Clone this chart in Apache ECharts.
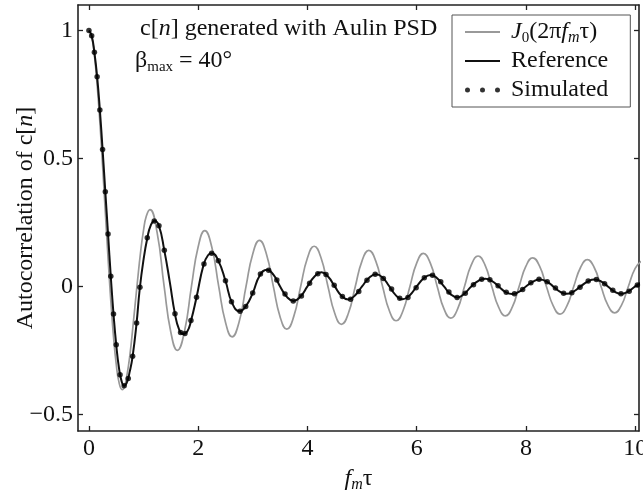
<!DOCTYPE html>
<html><head><meta charset="utf-8">
<script src="https://cdn.jsdelivr.net/npm/echarts@6/dist/echarts.min.js"></script>
<style>html,body{margin:0;padding:0;background:#fff}#c{width:643px;height:492px}</style>
</head><body><div id="c"></div>
<script>
const xTicks = [0, 2, 4, 6, 8, 10];
const yTicks = [-0.5, 0, 0.5, 1];

const j0X = [0,0.05,0.1,0.15,0.2,0.25,0.3,0.35,0.383,0.4,0.45,0.5,0.55,0.61,0.65,0.7,0.75,0.8,0.879,0.95,1.0,1.05,1.117,
 1.247,1.377,1.498,1.619, 1.748,1.877,1.999,2.121, 2.249,2.376,2.499,2.621, 2.749,2.876,2.999,3.122, 3.249,3.376,3.499,3.622,
 3.749,3.876,4.0,4.123, 4.25,4.376,4.5,4.623, 4.75,4.876,5.0,5.123, 5.25,5.376,5.5,5.623, 5.75,5.876,6.0,6.123,
 6.25,6.376,6.5,6.624, 6.75,6.875,7.0,7.124, 7.25,7.375,7.5,7.624, 7.75,7.875,8.0,8.124, 8.25,8.375,8.5,8.624,
 8.75,8.875,9.0,9.124, 9.25,9.375,9.5,9.624, 9.75,9.875,10.0,10.124];
const j0Y = [1,0.976,0.904,0.79,0.643,0.472,0.291,0.111,0,-0.055,-0.196,-0.304,-0.374,-0.403,-0.392,-0.342,-0.268,-0.169,0,0.142,0.22,0.274,0.300,
 0.212,0,-0.177,-0.250, -0.177,0,0.154,0.218, 0.154,0,-0.139,-0.197, -0.139,0,0.127,0.180, 0.127,0,-0.118,-0.167,
 -0.118,0,0.111,0.157, 0.111,0,-0.105,-0.148, -0.105,0,0.100,0.141, 0.100,0,-0.095,-0.134, -0.095,0,0.091,0.129,
 0.091,0,-0.088,-0.124, -0.088,0,0.084,0.119, 0.084,0,-0.081,-0.115, -0.081,0,0.079,0.112, 0.079,0,-0.076,-0.108,
 -0.076,0,0.074,0.105, 0.074,0,-0.073,-0.103, -0.073,0,0.071,0.100];

const refX = [0,0.05,0.1,0.15,0.2,0.25,0.3,0.35,0.4,0.45,0.5,0.55,0.6,0.645,0.69,0.75,0.8,0.87,0.93,1.0,1.07,1.13,1.2,1.28,1.38,1.48,1.575,1.65,1.72,1.8,1.87,1.97,2.1,2.18,2.25,2.37,2.5,2.62,2.76,2.88,3.0,
 3.13,3.26,3.38,3.5,3.62,3.745,3.87,4.0,4.13,4.255,4.38,4.5,4.62,4.745,4.87,5.0,5.13,5.255,5.38,5.5,5.62,5.745,5.87,6.0,
 6.13,6.255,6.38,6.5,6.62,6.745,6.87,7.0,7.13,7.255,7.38,7.5,7.62,7.745,7.87,8.0,8.13,8.255,8.38,8.5,8.62,8.745,8.87,9.0,
 9.13,9.255,9.38,9.5,9.62,9.745,9.87,10.0,10.13];
const refY = [1,0.98,0.915,0.82,0.69,0.535,0.37,0.205,0.04,-0.108,-0.228,-0.318,-0.372,-0.388,-0.378,-0.33,-0.273,-0.148,-0.01,0.105,0.19,0.238,0.257,0.238,0.141,0.018,-0.107,-0.168,-0.186,-0.176,-0.133,-0.042,0.086,0.122,0.130,0.100,0.022,-0.064,-0.097,-0.075,-0.025,
 0.044,0.065,0.045,0.0,-0.040,-0.057,-0.040,0.0,0.039,0.055,0.038,0.0,-0.036,-0.051,-0.035,0.0,0.034,0.048,0.034,0.0,-0.035,-0.050,-0.035,0.0,
 0.032,0.045,0.031,0.0,-0.030,-0.043,-0.029,0.0,0.022,0.030,0.021,0.0,-0.021,-0.030,-0.021,0.0,0.019,0.027,0.019,0.0,-0.020,-0.029,-0.020,0.0,
 0.019,0.027,0.019,0.0,-0.020,-0.029,-0.020,0.0,0.018];

const simX = [0,0.05,0.1,0.15,0.2,0.25,0.3,0.35,0.4,0.45,0.5,0.57,0.645,0.72,0.8,0.873,0.934,1.068,1.196,1.282,1.38,1.575,1.678,1.758,1.868,1.97,2.106,2.247,2.37,2.5,2.61,2.766,2.87,2.998,
 3.14,3.29,3.44,3.59,3.74,3.89,4.04,4.19,4.34,4.49,4.64,4.79,4.94,5.09,5.24,5.39,5.54,5.69,5.84,5.99,6.14,6.29,6.44,6.59,6.74,6.89,
 7.04,7.19,7.34,7.49,7.64,7.79,7.94,8.09,8.24,8.39,8.54,8.69,8.84,8.99,9.14,9.29,9.44,9.59,9.74,9.89,10.04];
const simY = [1,0.98,0.915,0.82,0.69,0.535,0.37,0.205,0.04,-0.108,-0.228,-0.345,-0.388,-0.36,-0.273,-0.143,-0.003,0.19,0.256,0.237,0.141,-0.107,-0.18,-0.184,-0.133,-0.042,0.088,0.13,0.1,0.022,-0.06,-0.097,-0.078,-0.026,
 0.049,0.063,0.025,-0.030,-0.057,-0.037,0.012,0.050,0.047,0.005,-0.039,-0.050,-0.020,0.024,0.048,0.031,-0.010,-0.046,-0.043,-0.005,0.034,0.044,0.018,-0.022,-0.043,-0.027,
 0.007,0.028,0.026,0.003,-0.023,-0.029,-0.012,0.014,0.028,0.018,-0.006,-0.027,-0.025,-0.003,0.021,0.027,0.011,-0.015,-0.029,-0.019,0.006];

const zip = (xs, ys) => xs.slice(0, Math.min(xs.length, ys.length)).map((x, i) => [x, ys[i]]);

const F = "'Liberation Serif', 'Times New Roman', serif";
const INK = '#111';
const FS = 24, LH = 28;
const rich = {
  t: {fontFamily: F, fontSize: FS, lineHeight: LH, color: INK},
  i: {fontFamily: F, fontSize: FS, fontStyle: 'italic', lineHeight: LH, color: INK},
  s: {fontFamily: F, fontSize: 15, lineHeight: 16, verticalAlign: 'bottom', color: INK},
  si: {fontFamily: F, fontSize: 16, fontStyle: 'italic', lineHeight: 16, verticalAlign: 'bottom', color: INK}
};
const dotsPath = 'path://M0,2.5a2.5,2.5 0 1,0 5,0a2.5,2.5 0 1,0 -5,0M15,2.5a2.5,2.5 0 1,0 5,0a2.5,2.5 0 1,0 -5,0M30,2.5a2.5,2.5 0 1,0 5,0a2.5,2.5 0 1,0 -5,0';
const linePath = 'path://M0,0H35V1.8H0Z';

const axisLine = {show: true, onZero: false, lineStyle: {color: '#222', width: 1.6}};
const tickX = {show: true, inside: true, length: 5, customValues: xTicks, lineStyle: {color: '#222', width: 1.3}};
const tickY = {show: true, inside: true, length: 5, customValues: yTicks, lineStyle: {color: '#222', width: 1.3}};

const chart = echarts.init(document.getElementById('c'), null, {renderer: 'canvas'});
chart.setOption({
  animation: false,
  backgroundColor: '#fff',
  grid: {left: 78, right: 4, top: 5, bottom: 61, containLabel: false, outerBoundsMode: 'none'},
  xAxis: [
    {type: 'value', position: 'bottom', min: -0.2, max: 10.07, axisLine, axisTick: tickX,
     axisLabel: {customValues: xTicks, fontFamily: F, fontSize: FS, color: INK, margin: 6},
     splitLine: {show: false},
     name: '{i|f}{si|m}{t|τ}', nameLocation: 'middle', nameGap: 34, nameMoveOverlap: false,
     nameTextStyle: {fontFamily: F, fontSize: FS, color: INK, rich}},
    {type: 'value', position: 'top', min: -0.2, max: 10.07, axisLine, axisTick: tickX,
     axisLabel: {show: false}, splitLine: {show: false}}
  ],
  yAxis: [
    {type: 'value', position: 'left', min: -0.565, max: 1.1, axisLine, axisTick: tickY,
     axisLabel: {customValues: yTicks, fontFamily: F, fontSize: FS, color: INK, margin: 5,
                 formatter: v => String(v).replace('-', '\u2212')},
     splitLine: {show: false},
     name: '{t|Autocorrelation of c[}{i|n}{t|]}', nameLocation: 'middle', nameRotate: 90, nameGap: 38,
     nameMoveOverlap: false,
     nameTextStyle: {fontFamily: F, fontSize: FS, color: INK, rich}},
    {type: 'value', position: 'right', min: -0.565, max: 1.1, axisLine, axisTick: tickY,
     axisLabel: {show: false}, splitLine: {show: false}}
  ],
  legend: {
    orient: 'vertical', left: 452, top: 15,
    padding: [3, 22, 3, 13], itemGap: 1, itemWidth: 35, itemHeight: 12,
    borderColor: '#555', borderWidth: 1, borderRadius: 0, backgroundColor: '#fff',
    textStyle: {fontFamily: F, fontSize: FS, color: INK, lineHeight: LH, rich},
    formatter: name => name === 'J0' ? '{t| }{i|J}{s|0}{t|(2π}{i|f}{si|m}{t|τ)}' : '{t| ' + name + '}',
    data: [
      {name: 'J0', icon: linePath, itemStyle: {color: '#999'}},
      {name: 'Reference', icon: 'path://M0,0H35V2.2H0Z', itemStyle: {color: '#111'}},
      {name: 'Simulated', icon: dotsPath, itemStyle: {color: '#000'}}
    ]
  },
  graphic: [
    {type: 'text', left: 140, top: 17, z: 10,
     style: {text: '{t|c[}{i|n}{t|] generated with Aulin PSD}', rich, fill: INK}},
    {type: 'text', left: 135, top: 49, z: 10,
     style: {text: '{t|β}{s|max}{t| = 40°}', rich, fill: INK}}
  ],
  series: [
    {name: 'J0', type: 'line', data: zip(j0X, j0Y), smooth: 0.5, symbol: 'none',
     lineStyle: {color: '#999', width: 1.7}, itemStyle: {color: '#999'}, z: 1},
    {name: 'Reference', type: 'line', data: zip(refX, refY), smooth: 0.5, symbol: 'none',
     lineStyle: {color: '#111', width: 2}, itemStyle: {color: '#111'}, z: 2},
    {name: 'Simulated', type: 'scatter', data: zip(simX, simY), symbol: 'circle', symbolSize: 5.5,
     itemStyle: {color: '#000'}, z: 3}
  ]
});
</script>
</body></html>
